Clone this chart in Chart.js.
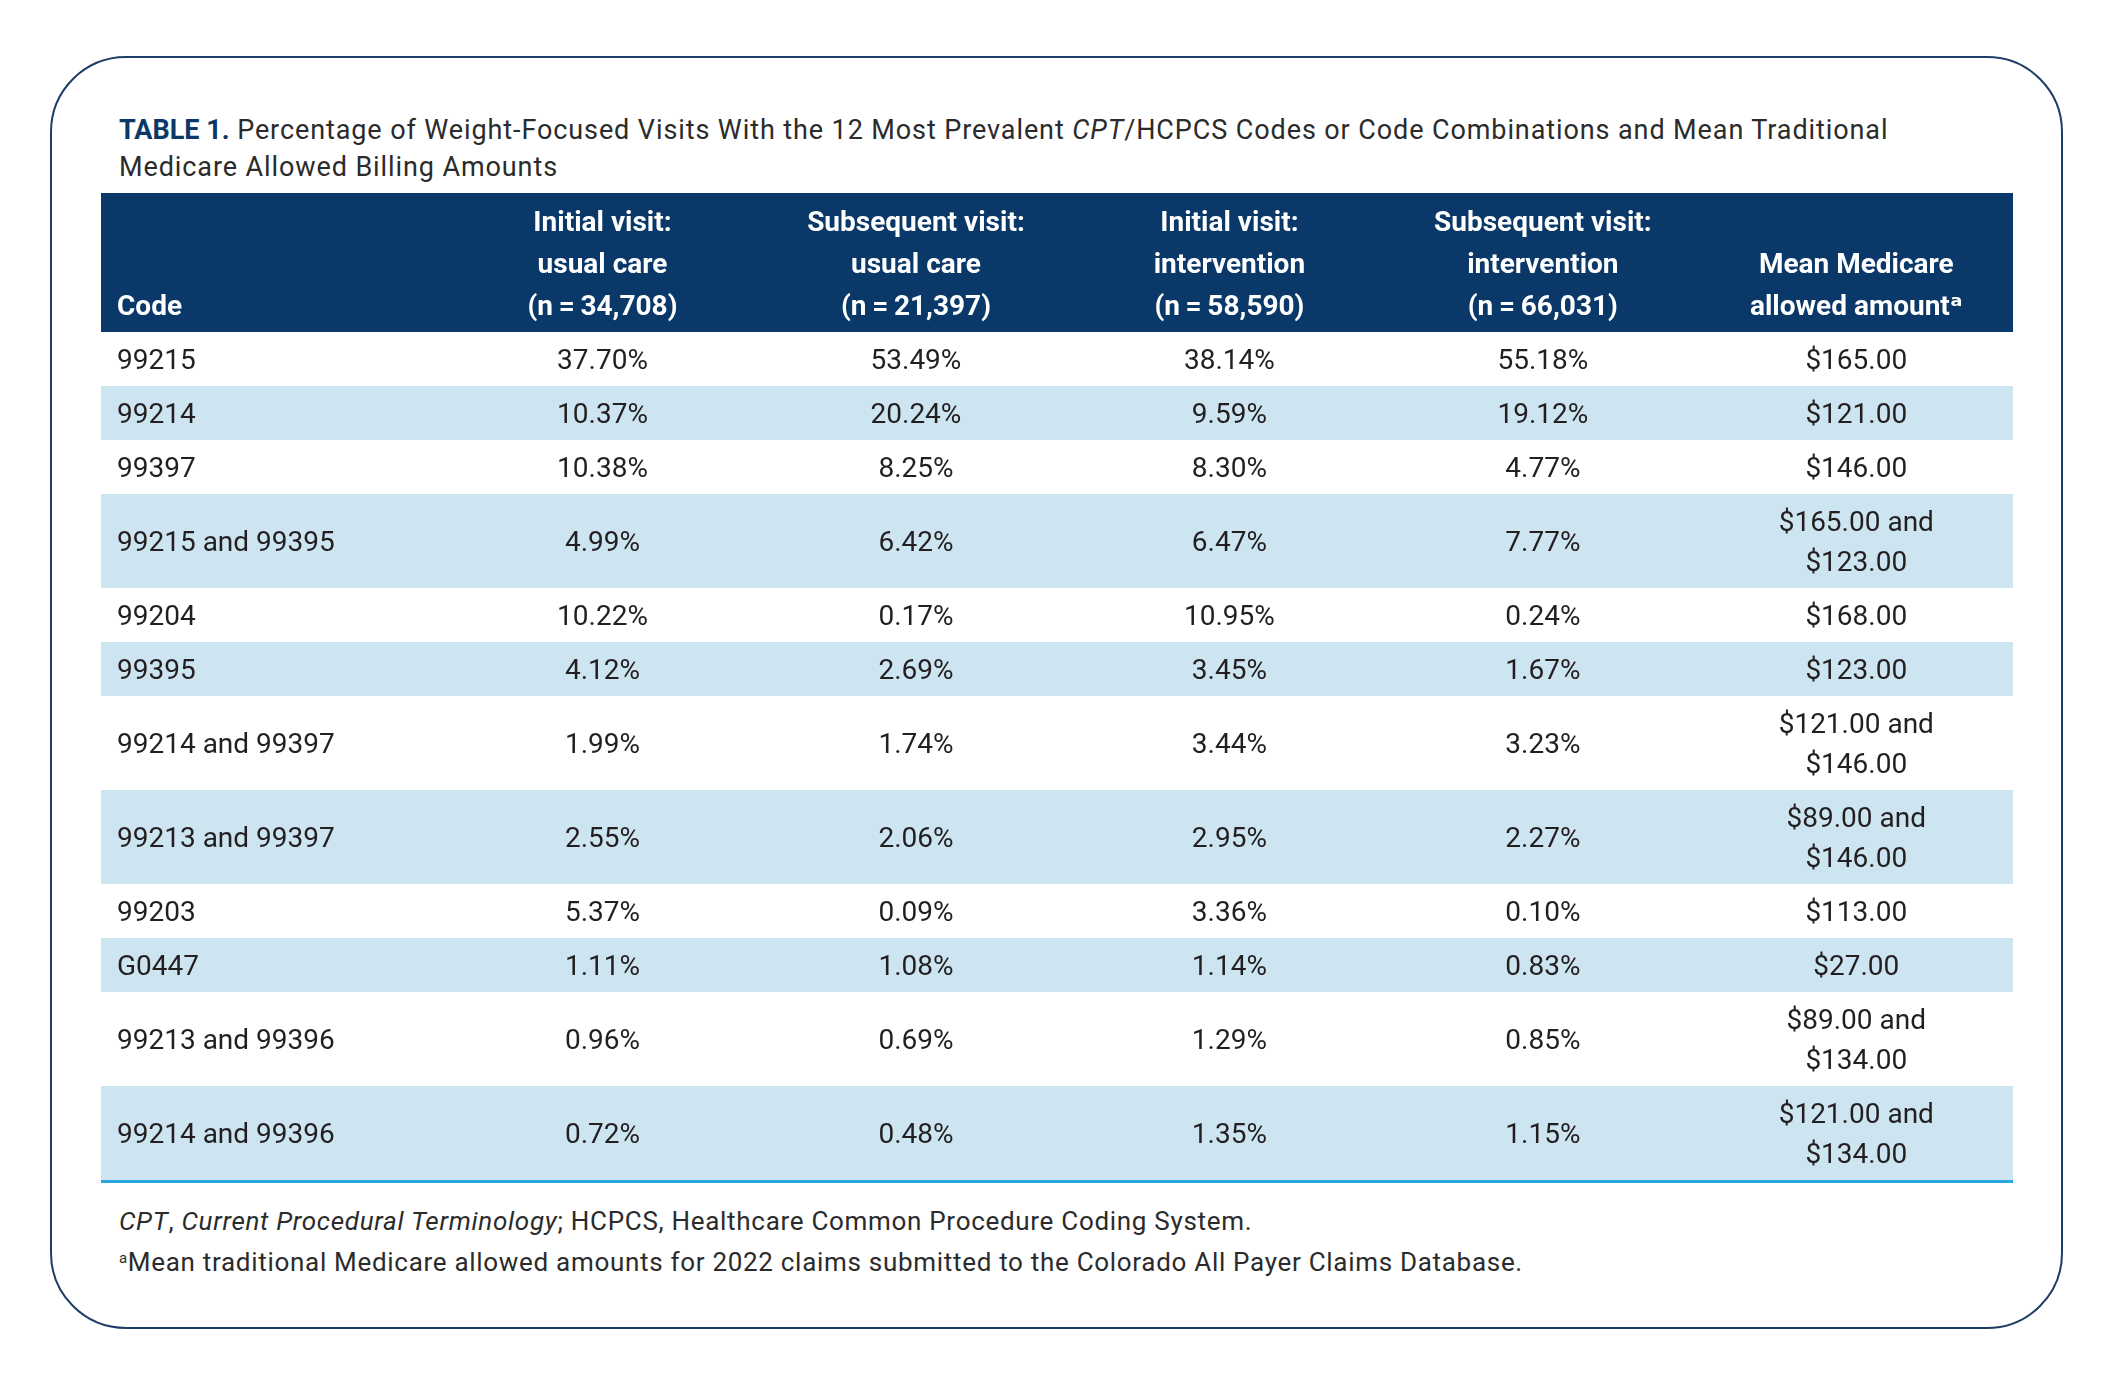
<!DOCTYPE html>
<html>
<head>
<meta charset="utf-8">
<title>Table 1</title>
<script src="https://cdn.jsdelivr.net/npm/chart.js@4.4.1/dist/chart.umd.min.js"></script>
<style>
  html, body { margin: 0; padding: 0; background: #fff; }
  body { width: 2113px; height: 1388px; position: relative; overflow: hidden;
         font-family: Roboto, 'DejaVu Sans', sans-serif; color: #231f20; }
  .frame { position: absolute; left: 50px; top: 56px; width: 2013px; height: 1273px;
           box-sizing: border-box; border: 2.5px solid #1c3d66; border-radius: 76px; }
  .caption { position: absolute; left: 119px; top: 112px; font-size: 27px; line-height: 37px;
             letter-spacing: 0.9px; white-space: nowrap; color: #2b2b2b; }
  .caption b { color: #0a3868; letter-spacing: 0; }
  .chart-box { position: absolute; left: 101px; top: 193px; width: 1912px; height: 997px; }
  .notes { position: absolute; left: 119px; top: 1201px; font-size: 26px; line-height: 41px;
           letter-spacing: 0.7px; white-space: nowrap; color: #2b2b2b; }
  .notes sup { font-size: 15px; vertical-align: 8px; line-height: 0; }
</style>
</head>
<body>
<div class="frame"></div>
<div class="caption"><b>TABLE 1.</b> Percentage of Weight-Focused Visits With the 12 Most Prevalent <i>CPT</i>/HCPCS Codes or Code Combinations and Mean Traditional<br>Medicare Allowed Billing Amounts</div>
<div class="chart-box"><canvas id="chartTable"></canvas></div>
<div class="notes"><i>CPT</i>, <i>Current Procedural Terminology</i>; HCPCS, Healthcare Common Procedure Coding System.<br><sup>a</sup>Mean traditional Medicare allowed amounts for 2022 claims submitted to the Colorado All Payer Claims Database.</div>

<script>
// Table rows (codes) and column values
const codes = ['99215', '99214', '99397', '99215 and 99395', '99204', '99395',
    '99214 and 99397', '99213 and 99397', '99203', 'G0447', '99213 and 99396', '99214 and 99396'];
const initialUsualCare = [37.70, 10.37, 10.38, 4.99, 10.22, 4.12, 1.99, 2.55, 5.37, 1.11, 0.96, 0.72];
const subsequentUsualCare = [53.49, 20.24, 8.25, 6.42, 0.17, 2.69, 1.74, 2.06, 0.09, 1.08, 0.69, 0.48];
const initialIntervention = [38.14, 9.59, 8.30, 6.47, 10.95, 3.45, 3.44, 2.95, 3.36, 1.14, 1.29, 1.35];
const subsequentIntervention = [55.18, 19.12, 4.77, 7.77, 0.24, 1.67, 3.23, 2.27, 0.10, 0.83, 0.85, 1.15];
const medicareAmounts = [[165], [121], [146], [165, 123], [168], [123],
    [121, 146], [89, 146], [113], [27], [89, 134], [121, 134]];
const codeHeader = 'Code';
const columnHeaders = [
    ['Initial visit:', 'usual care', '(n\u2009=\u200934,708)'],
    ['Subsequent visit:', 'usual care', '(n\u2009=\u200921,397)'],
    ['Initial visit:', 'intervention', '(n\u2009=\u200958,590)'],
    ['Subsequent visit:', 'intervention', '(n\u2009=\u200966,031)'],
    ['Mean Medicare', 'allowed amount\u1D43']
];

const FONT = "Roboto, 'DejaVu Sans', sans-serif";
const NAVY = '#0a3868';
const BAND = '#cde4f1';
const INK = '#231f20';
const TEXT_NUDGE = 3; // canvas 'middle' sits a little high for digits

// Row heights in "text line" units: one unit per line plus some padding
const rowStarts = [];
const rowCenters = [];
let depth = 0;
medicareAmounts.forEach(function(a) {
    const h = a.length + 0.35;
    rowStarts.push(depth);
    rowCenters.push(depth + h / 2);
    depth += h;
});
const tableDepth = depth;

const percentColumns = [initialUsualCare, subsequentUsualCare, initialIntervention, subsequentIntervention];
const datasets = percentColumns.map(function(values, c) {
    return {
        label: columnHeaders[c].join(' '),
        data: values.map(function(v, i) {
            return { x: c + 1, y: rowCenters[i], text: [v.toFixed(2) + '%'] };
        })
    };
});
datasets.push({
    label: columnHeaders[4].join(' '),
    data: medicareAmounts.map(function(a, i) {
        return {
            x: 5, y: rowCenters[i],
            text: a.map(function(v, k) { return '$' + v.toFixed(2) + (k < a.length - 1 ? ' and' : ''); })
        };
    })
});

// Header band, alternating row bands and bottom rule
const tableBackground = {
    id: 'tableBackground',
    beforeDraw(chart) {
        const ctx = chart.ctx;
        const x = chart.scales.x;
        const y = chart.scales.y;
        const left = x.getPixelForValue(x.min);
        const right = x.getPixelForValue(x.max);
        ctx.save();
        ctx.fillStyle = NAVY;
        ctx.fillRect(left, x.top, right - left, x.bottom - x.top);
        ctx.fillStyle = BAND;
        rowStarts.forEach(function(s, i) {
            if (i % 2 === 1) {
                const top = y.getPixelForValue(s);
                const bottom = y.getPixelForValue(s + medicareAmounts[i].length + 0.35);
                ctx.fillRect(left, top, right - left, bottom - top);
            }
        });
        const yEnd = y.getPixelForValue(tableDepth);
        ctx.fillStyle = '#2ba6de';
        ctx.fillRect(left, yEnd, right - left, 3);
        ctx.restore();
    }
};

// Cell texts at the position of each data point
const tableCells = {
    id: 'tableCells',
    afterDraw(chart) {
        const ctx = chart.ctx;
        const x = chart.scales.x;
        const y = chart.scales.y;
        const lineGap = y.getPixelForValue(1) - y.getPixelForValue(0);
        ctx.save();
        ctx.fillStyle = INK;
        ctx.font = '28px ' + FONT;
        ctx.textAlign = 'center';
        ctx.textBaseline = 'middle';
        chart.data.datasets.forEach(function(ds, d) {
            const meta = chart.getDatasetMeta(d);
            meta.data.forEach(function(pt, i) {
                const lines = ds.data[i].text;
                lines.forEach(function(t, k) {
                    ctx.fillText(t, pt.x, pt.y + TEXT_NUDGE + (k - (lines.length - 1) / 2) * lineGap);
                });
            });
        });
        // "Code" header, left aligned on the bottom header line
        const lh = x.options.ticks.font.size * x.options.ticks.font.lineHeight;
        ctx.fillStyle = '#ffffff';
        ctx.font = 'bold 28px ' + FONT;
        ctx.textAlign = 'left';
        ctx.fillText(codeHeader, x.getPixelForValue(x.min) + 16, x.bottom - x.options.ticks.padding - lh / 2);
        ctx.restore();
    }
};

new Chart(document.getElementById('chartTable').getContext('2d'), {
    type: 'scatter',
    data: { datasets: datasets },
    options: {
        responsive: true,
        maintainAspectRatio: false,
        animation: false,
        layout: { padding: { top: 0, left: 0, right: 0, bottom: 10 } },
        elements: { point: { radius: 0, hoverRadius: 0 } },
        plugins: {
            legend: { display: false },
            tooltip: { enabled: false }
        },
        scales: {
            x: {
                type: 'linear',
                position: 'top',
                min: -0.6,
                max: 5.5,
                grid: { display: false, drawTicks: false },
                border: { display: false },
                afterBuildTicks: function(s) {
                    s.ticks = columnHeaders.map(function(h, i) { return { value: i + 1 }; });
                },
                afterFit: function(s) {
                    s.height = 139;
                    s.paddingLeft = 0;
                    s.paddingRight = 0;
                },
                ticks: {
                    autoSkip: false,
                    maxRotation: 0,
                    padding: 3,
                    color: '#ffffff',
                    font: { family: FONT, size: 28, weight: 'bold', lineHeight: 1.5 },
                    callback: function(value, index) { return columnHeaders[index]; }
                }
            },
            y: {
                type: 'linear',
                reverse: true,
                min: 0,
                max: tableDepth,
                grid: { display: false, drawTicks: false },
                border: { display: false },
                afterBuildTicks: function(s) {
                    s.ticks = rowCenters.map(function(v) { return { value: v }; });
                },
                afterFit: function(s) {
                    s.width = 0;
                    s.paddingTop = 0;
                    s.paddingBottom = 0;
                },
                ticks: {
                    mirror: true,
                    padding: 16,
                    labelOffset: TEXT_NUDGE,
                    autoSkip: false,
                    color: INK,
                    font: { family: FONT, size: 28 },
                    callback: function(value, index) { return codes[index]; }
                }
            }
        }
    },
    plugins: [tableBackground, tableCells]
});
</script>
</body>
</html>
